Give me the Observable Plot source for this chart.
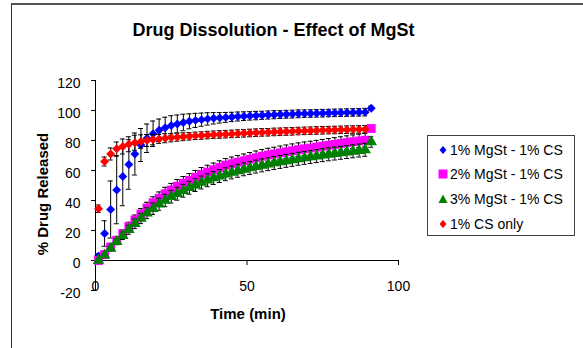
<!DOCTYPE html>
<html><head><meta charset="utf-8">
<script src="https://cdn.jsdelivr.net/npm/d3@7"></script>
<script src="https://cdn.jsdelivr.net/npm/@observablehq/plot@0.6"></script>
<style>
body{margin:0;background:#fff;}
#wrap{position:relative;width:583px;height:348px;overflow:hidden;font-family:Arial,"Liberation Sans",sans-serif;background:#fff;}
#border{position:absolute;left:11px;top:3px;width:700px;height:500px;border-left:1px solid #333;border-top:2px solid #555;}
#legend{position:absolute;left:427px;top:135px;width:148px;height:101px;box-sizing:border-box;border:1px solid #404040;background:#fff;}
.row{position:absolute;left:0;height:16px;line-height:16px;font-size:14px;color:#000;white-space:nowrap;}
.row svg{position:absolute;left:7px;top:0;}
.row span{position:absolute;left:22px;top:0;}
</style></head><body><div id="wrap"><div id="border"></div></div>
<script>
const titleText = "Drug Dissolution - Effect of MgSt";
const xLabel = "Time (min)";
const yLabel = "% Drug Released";
const xTicks = [0, 50, 100];
const yTicks = [-20, 0, 20, 40, 60, 80, 100, 120];
const seriesNames = ["1% MgSt - 1% CS", "2% MgSt - 1% CS", "3% MgSt - 1% CS", "1% CS only"];
const seriesColors = ["#0000ff", "#ff00ff", "#008000", "#ff0000"];
const seriesSymbols = ["diamond2", "square", "triangle", "diamond2"];
const seriesR = [4, 5, 4.3, 4];

const time = [1,3,5,7,9,11,13,15,17,19,21,23,25,27,29,31,33,35,37,39,41,43,45,47,49,51,53,55,57,59,61,63,65,67,69,71,73,75,77,79,81,83,85,87,89,91];

const mg1 = [3,18,34,47,56,64,71,77,81.5,84.5,86.8,88.5,90,91,92,92.8,93.4,93.9,94.4,94.8,95.1,95.4,95.7,96,96.2,96.4,96.6,96.8,97,97.2,97.3,97.5,97.6,97.8,97.9,98,98.1,98.2,98.3,98.4,98.5,98.6,98.7,98.8,98.9,101.5];
const mg1Err = [1.5,8.5,19,22.5,19.5,16.5,14,11,9.5,8.5,7.5,7,6.5,6,5.5,5,4.7,4.4,4.1,3.8,3.5,3.3,3.1,3,2.9,2.8,2.8,2.7,2.7,2.7,2.6,2.6,2.6,2.6,2.5,2.5,2.5,2.5,2.5,2.5,2.5,2.5,2.5,2.5,2.5,1.5];

const mg2 = [0,4,9,13.5,18,22.5,27,31,35,38.5,41.5,44.5,47,49.5,51.5,53.5,55.5,57.5,59,60.5,62,63.5,64.5,65.5,66.5,67.5,68.5,69.5,70.3,71,71.8,72.5,73.2,73.9,74.5,75,75.6,76.2,76.8,77.4,78,78.6,79.2,79.7,80.2,88];
const mg2Err = [0.5,1,1.5,2,2.5,3,3.3,3.6,3.8,4,4.2,4.3,4.4,4.5,4.5,4.5,4.5,4.5,4.5,4.5,4.5,4.5,4.5,4.5,4.5,4.5,4.5,4.5,4.5,4.5,4.5,4.5,4.5,4.5,4.5,4.5,4.5,4.5,4.5,4.5,4.5,4.5,4.5,4.5,4.5,1];

const mg3 = [0,3.5,8,12.5,16.5,20.5,24.5,28,31.5,34.5,37.5,40,42.5,44.5,46.5,48.5,50.3,52,53.5,55,56.3,57.5,58.7,59.8,60.8,61.7,62.6,63.4,64.2,65,65.7,66.4,67.1,67.8,68.4,69,69.6,70.2,70.8,71.3,71.8,72.3,72.8,73.3,73.8,79];
const mg3Err = [0.5,1,1.5,2,2.5,3,3.2,3.4,3.6,3.8,4,4.1,4.2,4.3,4.3,4.3,4.3,4.3,4.3,4.3,4.3,4.3,4.3,4.3,4.3,4.3,4.3,4.3,4.3,4.3,4.3,4.3,4.3,4.3,4.3,4.3,4.3,4.3,4.3,4.3,4.3,4.3,4.3,4.3,4.3,3.5];

const csOnly = [34.5,66,71,74.5,76,77.5,78.5,79.3,80,80.6,81.1,81.5,81.9,82.2,82.5,82.8,83.1,83.3,83.6,83.8,84,84.2,84.4,84.6,84.8,85,85.2,85.4,85.5,85.7,85.8,86,86.1,86.3,86.4,86.5,86.7,86.8,86.9,87,87.1,87.2,87.3,87.4,87.5];
const csOnlyErr = [2.5,3,4,4.5,5,5,5,4.5,4,3.5,3,3,2.8,2.7,2.6,2.5,2.5,2.5,2.5,2.5,2.5,2.5,2.5,2.5,2.5,2.5,2.5,2.5,2.5,2.5,2.5,2.5,2.5,2.5,2.5,2.5,2.5,2.5,2.5,2.5,2.5,2.5,2.5,2.5,2.5];

const seriesValues = [mg1, mg2, mg3, csOnly];
const seriesErrors = [mg1Err, mg2Err, mg3Err, csOnlyErr];

const font = "Arial, 'Liberation Sans', sans-serif";
const marks = [];
// axes lines
marks.push(Plot.ruleX([0], {stroke: "#000", strokeWidth: 1}));
marks.push(Plot.ruleY([0], {stroke: "#000", strokeWidth: 1}));
// y ticks and labels
marks.push(Plot.ruleY(yTicks, {y: d => d, x1: 0, x2: 0, insetLeft: -4, stroke: "#000"}));
marks.push(Plot.text(yTicks, {y: d => d, frameAnchor: "left", dx: -15, dy: 3, textAnchor: "end", text: d => String(d), fontSize: 14, fill: "#000"}));
// x ticks and labels
marks.push(Plot.ruleX(xTicks, {x: d => d, y1: 0, y2: 0, insetBottom: -5, stroke: "#000"}));
marks.push(Plot.text(xTicks, {x: d => d, y: 0, dy: 30.5, lineAnchor: "bottom", text: d => String(d), fontSize: 14, fill: "#000"}));

seriesValues.forEach((vals, s) => {
  const rows = vals.map((v, j) => ({t: time[j], v, e: seriesErrors[s][j]}));
  marks.push(Plot.ruleX(rows, {x: "t", y1: d => d.v - d.e, y2: d => d.v + d.e, stroke: "#000", strokeWidth: 1}));
  marks.push(Plot.ruleY(rows, {y: d => d.v + d.e, x1: "t", x2: "t", insetLeft: -2.5, insetRight: -2.5, stroke: "#000"}));
  marks.push(Plot.ruleY(rows, {y: d => d.v - d.e, x1: "t", x2: "t", insetLeft: -2.5, insetRight: -2.5, stroke: "#000"}));
  marks.push(Plot.dot(rows, {x: "t", y: "v", symbol: seriesSymbols[s], r: seriesR[s], fill: seriesColors[s], stroke: "none"}));
});

// titles
marks.push(Plot.text([titleText], {frameAnchor: "top-left", dx: 178, dy: -45, lineAnchor: "bottom", textAnchor: "middle", fontSize: 18, fontWeight: "bold", fill: "#000"}));
marks.push(Plot.text([xLabel], {frameAnchor: "top-left", dx: 152.5, dy: 238, lineAnchor: "bottom", textAnchor: "middle", fontSize: 15, fontWeight: "bold", fill: "#000"}));
marks.push(Plot.text([yLabel], {frameAnchor: "top-left", dx: -47.5, dy: 113.5, rotate: -90, lineAnchor: "bottom", textAnchor: "middle", fontSize: 15, fontWeight: "bold", fill: "#000"}));

const chart = Plot.plot({
  width: 583, height: 348,
  marginLeft: 95, marginRight: 185, marginTop: 80, marginBottom: 58,
  x: {domain: [0, 100], axis: null},
  y: {domain: [-20, 120], axis: null},
  style: {fontFamily: font, fontSize: "14px", color: "#000", background: "transparent", overflow: "visible"},
  marks
});
chart.style.position = "absolute";
chart.style.left = "0px";
chart.style.top = "0px";
const wrap = document.getElementById("wrap");
wrap.appendChild(chart);

// legend
const legend = document.createElement("div");
legend.id = "legend";
const rowCenters = [14.3, 38.3, 62.7, 88.3];
const shapes = [
  c => `<polygon points="8,4 11.5,8 8,12 4.5,8" fill="${c}"/>`,
  c => `<rect x="3.5" y="3.5" width="9" height="9" fill="${c}"/>`,
  c => `<polygon points="8,3.5 12.5,12 3.5,12" fill="${c}"/>`,
  c => `<polygon points="8,4 11.5,8 8,12 4.5,8" fill="${c}"/>`
];
seriesNames.forEach((name, i) => {
  const row = document.createElement("div");
  row.className = "row";
  row.style.top = (rowCenters[i] - 8) + "px";
  row.innerHTML = `<svg width="16" height="16">${shapes[i](seriesColors[i])}</svg><span>${name}</span>`;
  legend.appendChild(row);
});
wrap.appendChild(legend);
</script>
</body></html>
